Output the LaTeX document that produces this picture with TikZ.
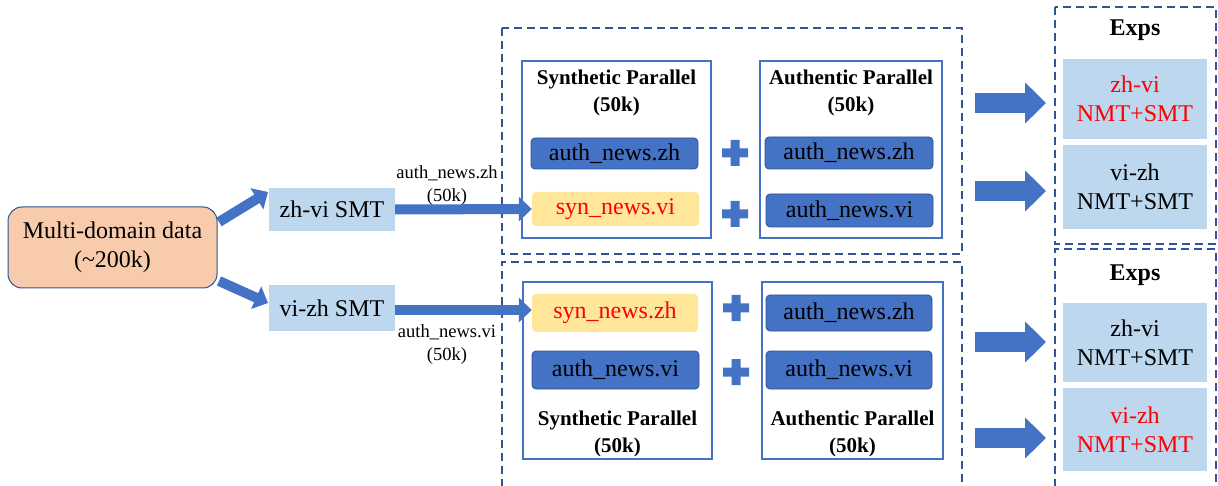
\documentclass[tikz,border=0pt]{standalone}
\usepackage{fontspec}
\setmainfont{Liberation Serif}
\usetikzlibrary{arrows.meta}
\definecolor{ablue}{HTML}{4472C4}
\definecolor{dblue}{HTML}{2F528F}
\definecolor{lblue}{HTML}{BDD7EE}
\definecolor{peach}{HTML}{F8CBAD}
\definecolor{lyellow}{HTML}{FFE699}
\definecolor{dashc}{HTML}{2F5597}
\begin{document}
\begin{tikzpicture}[x=1pt,y=-1pt,
  box/.style={inner sep=0pt, align=center, font=\fontsize{24}{29}\selectfont},
  lbox/.style={box, fill=lblue},
  abox/.style={box, fill=ablue, draw=dblue, line width=0.8pt, rounded corners=4pt},
  sbox/.style={box, fill=lyellow, rounded corners=4pt, text=red},
  frame/.style={draw=ablue, line width=1.2pt, fill=white, inner sep=0pt},
  dashbox/.style={draw=dashc, dash pattern=on 8pt off 5pt, line width=1.5pt},
  title/.style={font=\bfseries\fontsize{21}{27}\selectfont, align=center, inner sep=0pt},
  lbl/.style={font=\fontsize{18.5}{23}\selectfont, align=center, inner sep=0pt},
  smallarrow/.style={draw=ablue, line width=10pt, -{Triangle[width=24pt,length=13pt]}},
  bigarrow/.style={draw=ablue, line width=20pt, -{Triangle[width=40pt,length=21pt]}},
  plussign/.pic={\fill[ablue] (-13,-4.5)--(-4.5,-4.5)--(-4.5,-13)--(4.5,-13)--(4.5,-4.5)--(13,-4.5)--(13,4.5)--(4.5,4.5)--(4.5,13)--(-4.5,13)--(-4.5,4.5)--(-13,4.5)--cycle;}
]
\useasboundingbox (0,0) rectangle (1218,486);

% dashed groups
\draw[dashbox] (502,28) rectangle (962,254);
\draw[dashbox] (502,500) -- (502,262) -- (962,262) -- (962,500);
\draw[dashbox] (1055,7) rectangle (1216,244);
\draw[dashbox] (1055,500) -- (1055,249) -- (1216,249) -- (1216,500);

% left part
\node[box, fill=peach, draw=dblue, line width=1pt, rounded corners=14pt,
      minimum width=209pt, minimum height=81pt] (multi) at (112.5,247.5)
      {Multi-domain data\\(\textasciitilde200k)};
\node[lbox, minimum width=126pt, minimum height=43pt] (zhvi) at (332,209.5) {zh-vi SMT};
\node[lbox, minimum width=126pt, minimum height=46pt] (vizh) at (332,308) {vi-zh SMT};

% frames
\node[frame, minimum width=189pt, minimum height=177pt] (synU) at (616.5,149.5) {};
\node[frame, minimum width=182pt, minimum height=177pt] (autU) at (851,149.5) {};
\node[frame, minimum width=189pt, minimum height=177pt] (synL) at (617.5,370.5) {};
\node[frame, minimum width=181pt, minimum height=177pt] (autL) at (852.5,370.5) {};

\node[title] (tsynU) at (616.5,93) {Synthetic Parallel\\(50k)};
\node[title] (tautU) at (851,93) {Authentic Parallel\\(50k)};
\node[title] (tsynL) at (617.5,434) {Synthetic Parallel\\(50k)};
\node[title] (tautL) at (852.5,434) {Authentic Parallel\\(50k)};

% data boxes
\node[abox, minimum width=167pt, minimum height=31pt] (uzh1) at (614.5,153.5) {auth\_news.zh};
\node[sbox, minimum width=167pt, minimum height=34pt] (synvi) at (615.5,209) {syn\_news.vi};
\node[abox, minimum width=168pt, minimum height=32pt] (uzh2) at (849,153) {auth\_news.zh};
\node[abox, minimum width=167pt, minimum height=33pt] (uvi2) at (849.5,210.5) {auth\_news.vi};

\node[sbox, minimum width=166pt, minimum height=38pt] (synzh) at (615,313) {syn\_news.zh};
\node[abox, minimum width=167pt, minimum height=38pt] (lvi1) at (615.5,370) {auth\_news.vi};
\node[abox, minimum width=166pt, minimum height=36pt] (lzh2) at (849,313) {auth\_news.zh};
\node[abox, minimum width=166pt, minimum height=38pt] (lvi2) at (849,370) {auth\_news.vi};

\pic at (735,153) {plussign};
\pic at (735,214) {plussign};
\pic at (736,308) {plussign};
\pic at (736,372) {plussign};

% exps
\node[font=\bfseries\fontsize{24}{29}\selectfont, inner sep=0pt] (exU) at (1135,30) {Exps};
\node[font=\bfseries\fontsize{24}{29}\selectfont, inner sep=0pt] (exL) at (1135,275) {Exps};
\node[lbox, minimum width=144pt, minimum height=80pt, text=red] (e1) at (1135,99) {zh-vi\\NMT+SMT};
\node[lbox, minimum width=144pt, minimum height=84pt] (e2) at (1135,187) {vi-zh\\NMT+SMT};
\node[lbox, minimum width=144pt, minimum height=79pt] (e3) at (1135,342.5) {zh-vi\\NMT+SMT};
\node[lbox, minimum width=144pt, minimum height=83pt, text=red] (e4) at (1135,429.5) {vi-zh\\NMT+SMT};

% arrows
\coordinate (d1s) at (219,222);
\coordinate (d1e) at (268,192);
\coordinate (d2s) at (219,281);
\coordinate (d2e) at (268,303);
\draw[smallarrow] (d1s) -- (d1e);
\draw[smallarrow] (d2s) -- (d2e);
\draw[smallarrow] (zhvi.east) -- (synvi.west);
\draw[smallarrow] ([yshift=-2pt]vizh.east) -- ([yshift=-2pt]vizh.east -| synzh.west);

\node[lbl] (l1) at (447,186) {auth\_news.zh\\(50k)};
\node[lbl] (l2) at (447,345) {auth\_news.vi\\(50k)};

\coordinate (r1s) at (975,103); \coordinate (r1e) at (1046,103);
\coordinate (r2s) at (975,191); \coordinate (r2e) at (1046,191);
\coordinate (r3s) at (975,342); \coordinate (r3e) at (1046,342);
\coordinate (r4s) at (975,438); \coordinate (r4e) at (1046,438);
\draw[bigarrow] (r1s) -- (r1e);
\draw[bigarrow] (r2s) -- (r2e);
\draw[bigarrow] (r3s) -- (r3e);
\draw[bigarrow] (r4s) -- (r4e);
\end{tikzpicture}
\end{document}
